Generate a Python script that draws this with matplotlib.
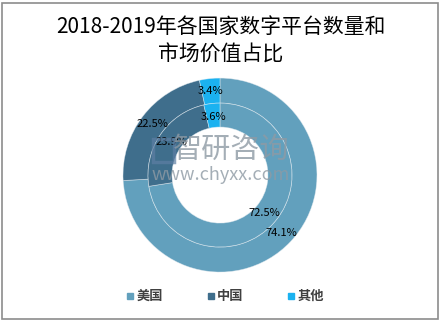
import matplotlib
matplotlib.use("Agg")
import matplotlib.pyplot as plt
from matplotlib.patches import Rectangle
from matplotlib.lines import Line2D

plt.rcParams['font.family'] = ['Noto Sans CJK SC', 'DejaVu Sans']

# data
categories = ["美国", "中国", "其他"]
outer_vals = [74.1, 22.5, 3.4]   # outer ring
inner_vals = [72.5, 23.9, 3.6]   # inner ring
colors = ["#62a0bd", "#3f6e8c", "#1bb2f0"]
title = "2018-2019年各国家数字平台数量和\n市场价值占比"

fig = plt.figure(figsize=(4.42, 3.23), dpi=100)
fig.patch.set_facecolor("white")

# outer frame
fig.patches.append(Rectangle((0.005, 0.012), 0.985, 0.98, transform=fig.transFigure,
                             fill=False, edgecolor="#8c8c8c", linewidth=1.2))

fig.text(0.50, 0.873, title, ha="center", va="center", fontsize=15,
         linespacing=1.3, color="black", weight="medium")

ax = fig.add_axes([0.4977 - 0.2195, 0.458 - 0.3003, 0.439, 0.6006])

wp = dict(edgecolor=(0.9, 0.93, 0.95, 0.6), linewidth=0.5)

ax.pie(outer_vals, radius=1.0, colors=colors, startangle=90, counterclock=False,
       wedgeprops=dict(width=0.258, **wp), autopct="%.1f%%", pctdistance=0.875,
       textprops=dict(fontsize=8, color="black"))
ax.pie(inner_vals, radius=0.742, colors=colors, startangle=90, counterclock=False,
       wedgeprops=dict(width=0.247, **wp), autopct="%.1f%%", pctdistance=0.81,
       textprops=dict(fontsize=8, color="black"))
ax.set_xlim(-1, 1)
ax.set_ylim(-1, 1)
ax.set_aspect("equal")
ax.axis("off")

# watermark
fig.text(0.523, 0.536, "智研咨询", ha="center", va="center", fontsize=21,
         color="#8e9aa4", alpha=0.8)
fig.text(0.50, 0.458, "www.chyxx.com", ha="center", va="center", fontsize=13,
         color="#8e9aa4", alpha=0.8)
fig.patches.append(Rectangle((0.346, 0.498), 0.048, 0.072, transform=fig.transFigure,
                             fill=False, edgecolor="#5d7fa3", linewidth=2.5, alpha=0.7))

handles = [Line2D([], [], marker="s", linestyle="none", markersize=5,
                  markerfacecolor=c, markeredgecolor=c) for c in colors]
fig.legend(handles, categories, loc="center", bbox_to_anchor=(0.508, 0.083), ncol=3,
           frameon=False, handletextpad=0.1, columnspacing=3.2, handlelength=0.8,
           prop=dict(size=9.5, weight="bold"), labelcolor="#404040")

fig.savefig("out.png", dpi=100)
